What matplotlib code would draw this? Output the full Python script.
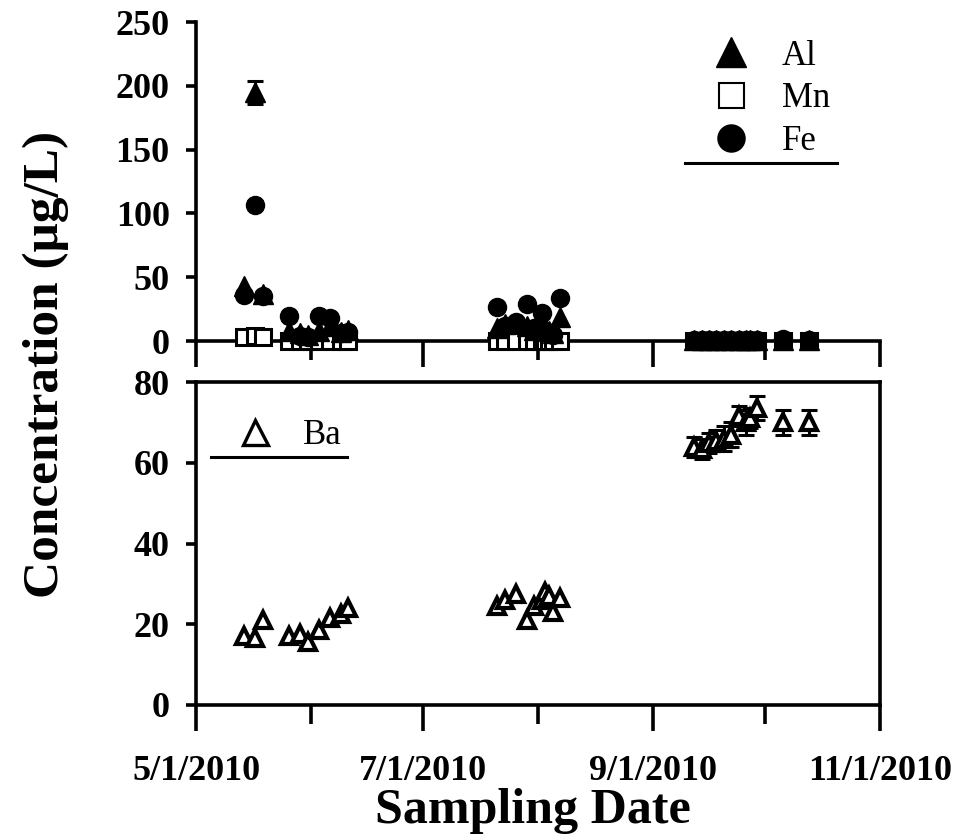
import numpy as np
import pandas as pd
import matplotlib
import matplotlib.pyplot as plt
import matplotlib.dates as mdates
from matplotlib.ticker import MultipleLocator, FuncFormatter
from matplotlib.lines import Line2D

matplotlib.use("Agg")

plt.rcParams["font.family"] = ["Liberation Serif", "DejaVu Serif"]
plt.rcParams["axes.linewidth"] = 2.6

# sampling dates
dates_1 = ["2010-05-14", "2010-05-17", "2010-05-19", "2010-05-26", "2010-05-29",
           "2010-05-31", "2010-06-03", "2010-06-06", "2010-06-09", "2010-06-11"]
dates_2 = ["2010-07-21", "2010-07-23", "2010-07-26", "2010-07-29", "2010-07-31",
           "2010-08-02", "2010-08-03", "2010-08-04", "2010-08-05", "2010-08-07"]
dates_3 = ["2010-09-12", "2010-09-14", "2010-09-16", "2010-09-18", "2010-09-20",
           "2010-09-22", "2010-09-24", "2010-09-26", "2010-09-27", "2010-09-29",
           "2010-10-06", "2010-10-13"]
dates = pd.to_datetime(dates_1 + dates_2 + dates_3)

# concentrations (ug/L)
al = [43, 195, 37, 8, 6, 5, 8, 12, 7, 9,
      10, 13, 14, 12, 9, 15, 10, 8, 6, 19,
      0.5, 0.5, 0.5, 0.5, 0.5, 0.5, 0.5, 0.5, 0.5, 0.5, 0.5, 0.5]
al_err = [0, 9, 0, 0, 0, 0, 0, 0, 0, 0,
          0, 0, 0, 0, 0, 0, 0, 0, 0, 0,
          0, 0, 0, 0, 0, 0, 0, 0, 0, 0, 0, 0]
mn = [3, 4, 3, 0, 0, 0, 0, 0, 0, 0,
      0, 0, 0, 0, 0, 0, 0, 0, 0, 0,
      0, 0, 0, 0, 0, 0, 0, 0, 0, 0, 0, 0]
fe = [36, 107, 35, 20, 4, 3, 20, 18, 6, 7,
      27, 12, 15, 29, 10, 22, 8, 6, 5, 34,
      0.5, 0.5, 0.5, 0.5, 0.5, 0.5, 0.5, 0.5, 0.5, 0.5, 2, 1]
fe_err = [0, 3, 0, 0, 0, 0, 0, 0, 0, 0,
          0, 0, 0, 0, 0, 0, 0, 0, 0, 0,
          0, 0, 0, 0, 0, 0, 0, 0, 0, 0, 0, 0]
ba = [17, 16.5, 21, 17, 17.5, 15.5, 18.5, 21.5, 22.5, 24,
      24.5, 26, 27.5, 21, 24.5, 26, 28, 27, 23, 26.5,
      64, 63.5, 65, 65.5, 66, 67, 71.5, 70, 71, 73.5, 70, 70]
ba_err = [0, 0, 0, 0, 0, 0, 0, 0, 0, 0,
          0, 0, 0, 0, 0, 0, 0, 0, 0, 0,
          2.5, 2.5, 2.5, 2.5, 3, 3, 2.5, 3, 2.5, 3, 3, 3]

fig = plt.figure(figsize=(9.59, 8.36), dpi=100)
ax1 = fig.add_axes([0.2044, 0.592, 0.7132, 0.3816])
ax2 = fig.add_axes([0.2044, 0.1567, 0.7132, 0.3863], sharex=ax1)


def err_subset(x, y, e):
    e = np.asarray(e, dtype=float)
    m = e > 0
    return x[m], np.asarray(y, dtype=float)[m], e[m]


# top panel
ax1.plot(dates, mn, "s", ms=11, mfc="white", mec="black", mew=2.2, clip_on=False, zorder=3, label="Mn")
ax1.plot(dates, fe, "o", ms=13, color="black", clip_on=False, zorder=4, label="Fe")
ax1.plot(dates, al, "^", ms=14, color="black", clip_on=False, zorder=5, label="Al")
for y, e in [(al, al_err), (fe, fe_err)]:
    xs, ys, es = err_subset(dates, y, e)
    ax1.errorbar(xs, ys, yerr=es, fmt="none", ecolor="black", elinewidth=2.2, capsize=6, capthick=2.2, zorder=5)

# bottom panel
xs, ys, es = err_subset(dates, ba, ba_err)
ax2.errorbar(xs, ys, yerr=es, fmt="none", ecolor="black", elinewidth=2.2, capsize=6, capthick=2.2, zorder=3)
ax2.plot(dates, ba, "^", ms=12, mfc="white", mec="black", mew=3, zorder=4, label="Ba")

ax1.set_ylim(0, 250)
ax1.yaxis.set_major_locator(MultipleLocator(50))
ax2.set_ylim(0, 80)
ax2.yaxis.set_major_locator(MultipleLocator(20))

ax1.set_xlim(pd.Timestamp("2010-05-01"), pd.Timestamp("2010-11-01"))
ax1.xaxis.set_major_locator(mdates.MonthLocator(bymonth=[5, 7, 9, 11]))
ax1.xaxis.set_minor_locator(mdates.MonthLocator(bymonth=[6, 8, 10]))


def date_label(v, pos):
    d = mdates.num2date(v)
    return f"{d.month}/{d.day}/{d.year}"


ax2.xaxis.set_major_formatter(FuncFormatter(date_label))
ax1.tick_params(axis="x", labelbottom=False)

ax1.spines["top"].set_visible(False)
ax1.spines["right"].set_visible(False)

for ax in (ax1, ax2):
    ax.tick_params(axis="x", which="major", direction="out", length=19, width=2.6)
    ax.tick_params(axis="x", which="minor", direction="out", length=14, width=2.6)
    ax.tick_params(axis="y", direction="out", length=7, width=2.6, pad=12)
    for lab in ax.get_yticklabels() + ax.get_xticklabels():
        lab.set_fontweight("bold")
        lab.set_fontsize(26)
ax2.tick_params(axis="x", pad=17)

# legends
h = [Line2D([], [], ls="none", marker="^", ms=14, color="black"),
     Line2D([], [], ls="none", marker="s", ms=12, mfc="white", mec="black", mew=1.5),
     Line2D([], [], ls="none", marker="o", ms=13, color="black")]
ax1.legend(h, ["Al", "Mn", "Fe"], loc="upper left", bbox_to_anchor=(0.747, 0.945), frameon=False,
           fontsize=25, markerscale=1.5, handlelength=1.4, handletextpad=0.75, labelspacing=0.28,
           borderpad=0, borderaxespad=0)
ax1.add_line(Line2D([0.715, 0.937], [0.558, 0.558], transform=ax1.transAxes, color="black", lw=2.2))

hb = [Line2D([], [], ls="none", marker="^", ms=12, mfc="white", mec="black", mew=2.4)]
ax2.legend(hb, ["Ba"], loc="upper left", bbox_to_anchor=(0.05, 0.885), frameon=False,
           fontsize=25, markerscale=1.5, handlelength=1.4, handletextpad=0.7,
           borderpad=0, borderaxespad=0)
ax2.add_line(Line2D([0.022, 0.221], [0.768, 0.768], transform=ax2.transAxes, color="black", lw=2.2))

fig.text(0.048, 0.564, "Concentration (μg/L)", rotation=90, ha="center", va="center",
         fontsize=37, fontweight="bold")
fig.text(0.556, 0.03, "Sampling Date", ha="center", va="center", fontsize=36, fontweight="bold")

fig.savefig("out.png", dpi=100)
